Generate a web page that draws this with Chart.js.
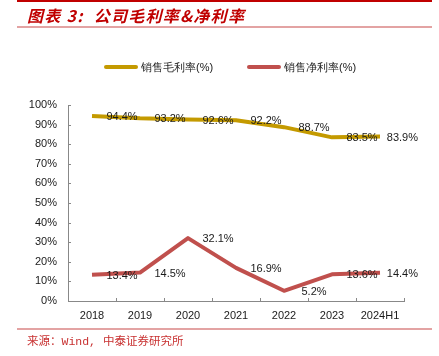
<!DOCTYPE html>
<html>
<head>
<meta charset="utf-8">
<script src="https://cdn.jsdelivr.net/npm/chart.js@4/dist/chart.umd.min.js"></script>
<style>
  html, body { margin:0; padding:0; background:#fff; }
  #wrap { position:relative; width:439px; height:356px; overflow:hidden; }
  #topline { position:absolute; left:17px; top:0; width:415px; height:2px; background:#C00000; }
  #title { position:absolute; left:27px; top:4px; line-height:22px; font-size:16px; font-weight:bold; font-style:italic; color:#C00000; font-family:"Noto Sans CJK SC", sans-serif; white-space:nowrap; letter-spacing:1.3px; }
  #titleline { position:absolute; left:17px; top:26px; width:415px; height:2px; background:#E3A3A3; }
  #srcline { position:absolute; left:17px; top:328px; width:415px; height:2px; background:#E3A3A3; }
  #src { position:absolute; left:27px; top:334px; line-height:16px; font-size:11.5px; color:#C83030; font-family:"Liberation Mono","Noto Sans CJK SC", monospace; letter-spacing:0px; white-space:nowrap; }
  canvas { position:absolute; left:0; top:0; }
</style>
</head>
<body>
<div id="wrap">
  <canvas id="c" width="439" height="356"></canvas>
  <div id="topline"></div>
  <div id="title">图表 3:&nbsp; 公司毛利率&amp;净利率</div>
  <div id="titleline"></div>
  <div id="srcline"></div>
  <div id="src">来源：Wind, 中泰证券研究所</div>
</div>
<script>
const categories = ['2018', '2019', '2020', '2021', '2022', '2023', '2024H1'];
const grossMargin = [94.4, 93.2, 92.6, 92.2, 88.7, 83.5, 83.9];
const netMargin = [13.4, 14.5, 32.1, 16.9, 5.2, 13.6, 14.4];
const seriesNames = ['销售毛利率(%)', '销售净利率(%)'];

const FONT = '"Liberation Sans", Arial, sans-serif';

const innerTicks = {
  id: 'innerTicks',
  afterDraw(chart) {
    const ctx = chart.ctx;
    const xs = chart.scales.x, ys = chart.scales.y;
    ctx.save();
    ctx.strokeStyle = '#888';
    ctx.lineWidth = 1;
    ctx.beginPath();
    ys.ticks.forEach((t, i) => {
      const y = Math.round(ys.getPixelForTick(i)) + 0.5;
      ctx.moveTo(xs.left, y); ctx.lineTo(xs.left + 3, y);
    });
    const n = xs.ticks.length;
    const edges = [xs.left];
    for (let i = 1; i < n; i++) edges.push((xs.getPixelForTick(i - 1) + xs.getPixelForTick(i)) / 2);
    edges.push(xs.right);
    edges.forEach(x => {
      const px = Math.round(x) + 0.5;
      ctx.moveTo(px, ys.bottom); ctx.lineTo(px, ys.bottom - 3);
    });
    ctx.stroke();
    ctx.restore();
  }
};

const valueLabels = {
  id: 'valueLabels',
  afterDatasetsDraw(chart) {
    const ctx = chart.ctx;
    ctx.save();
    ctx.font = '11px ' + FONT;
    ctx.fillStyle = '#1a1a1a';
    ctx.textAlign = 'center';
    ctx.textBaseline = 'middle';
    chart.data.datasets.forEach((ds, di) => {
      const meta = chart.getDatasetMeta(di);
      meta.data.forEach((pt, i) => {
        const txt = ds.data[i].toFixed(1) + '%';
        const w = ctx.measureText(txt).width;
        let cx = pt.x + 30;
        if (cx + w / 2 > chart.width - 21) cx = chart.width - 21 - w / 2;
        ctx.fillText(txt, cx, pt.y + 1);
      });
    });
    ctx.restore();
  }
};

const customLegend = {
  id: 'customLegend',
  afterDraw(chart) {
    const ctx = chart.ctx;
    const starts = [105, 248];
    const y = 67;
    ctx.save();
    ctx.font = '11px ' + FONT;
    ctx.textBaseline = 'middle';
    ctx.textAlign = 'left';
    chart.data.datasets.forEach((ds, i) => {
      const x = starts[i];
      ctx.strokeStyle = ds.borderColor;
      ctx.lineWidth = 4;
      ctx.lineCap = 'round';
      ctx.beginPath();
      ctx.moveTo(x + 1, y); ctx.lineTo(x + 31, y);
      ctx.stroke();
      ctx.fillStyle = '#1a1a1a';
      ctx.fillText(ds.label, x + 36, y + 1);
    });
    ctx.restore();
  }
};

new Chart(document.getElementById('c'), {
  type: 'line',
  data: {
    labels: categories,
    datasets: [
      { label: seriesNames[0], data: grossMargin, borderColor: '#C49A00', backgroundColor: '#C49A00', borderWidth: 4, pointRadius: 0, tension: 0, borderCapStyle: 'butt', borderJoinStyle: 'round' },
      { label: seriesNames[1], data: netMargin, borderColor: '#C0504D', backgroundColor: '#C0504D', borderWidth: 4, pointRadius: 0, tension: 0, borderCapStyle: 'butt', borderJoinStyle: 'round' }
    ]
  },
  options: {
    responsive: false,
    animation: false,
    devicePixelRatio: 1,
    layout: { padding: { top: 105, left: 18, right: 35, bottom: 25 } },
    plugins: { legend: { display: false }, tooltip: { enabled: false } },
    scales: {
      x: {
        offset: true,
        grid: { display: true, drawOnChartArea: false, drawTicks: false, color: 'rgba(0,0,0,0)' },
        border: { display: true, color: '#888', width: 1 },
        ticks: { color: '#1a1a1a', font: { size: 11, family: FONT }, padding: 8, maxRotation: 0, autoSkip: false },
        afterFit(s) { s.height = 30; }
      },
      y: {
        min: 0, max: 100,
        grid: { display: true, drawOnChartArea: false, drawTicks: false, color: 'rgba(0,0,0,0)' },
        border: { display: true, color: '#888', width: 1 },
        ticks: { stepSize: 10, color: '#1a1a1a', font: { size: 11, family: FONT }, padding: 11, callback: v => v + '%' },
        afterFit(s) { s.width = 50; }
      }
    }
  },
  plugins: [innerTicks, valueLabels, customLegend]
});
</script>
</body>
</html>
